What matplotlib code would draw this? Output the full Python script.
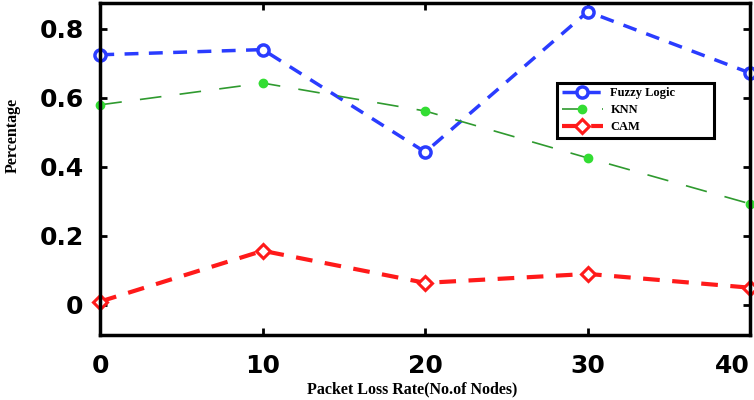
import matplotlib.pyplot as plt

# data
nodes = [0, 10, 20, 30, 40]
fuzzy = [0.725, 0.740, 0.443, 0.850, 0.672]
knn = [0.580, 0.643, 0.562, 0.426, 0.293]
cam = [0.010, 0.157, 0.064, 0.090, 0.050]
yticks = [0, 0.2, 0.4, 0.6, 0.8]
ytick_labels = ['0', '0.2', '0.4', '0.6', '0.8']

fig = plt.figure(figsize=(7.54, 4.0), dpi=100)
ax = fig.add_axes([0.133, 0.1625, 0.862, 0.83])

ax.plot(nodes, fuzzy, color='#2a3cff', lw=2.5, ls=(0, (4, 3)), marker='o',
        ms=8, mfc='white', mec='#2a3cff', mew=2.5, label='Fuzzy Logic', clip_on=False)
ax.plot(nodes, knn, color='#2f9a2f', lw=1.2, ls=(0, (13, 11)), marker='o',
        ms=6, mfc='#33dd33', mec='#33dd33', label='KNN', clip_on=False)
ax.plot(nodes, cam, color='#ff1a1a', lw=3, ls=(0, (4, 3)), marker='D',
        ms=7, mfc='white', mec='#ff1a1a', mew=2.2, label='CAM', clip_on=False)

ax.set_xlim(0, 40)
ax.set_ylim(-0.087, 0.875)
ax.set_xticks(nodes)
ax.set_yticks(yticks)
ax.set_yticklabels(ytick_labels)
ax.tick_params(direction='in', length=5, width=2, top=True, right=True, labelsize=18)
ax.tick_params(axis='x', pad=14)
ax.tick_params(axis='y', pad=12)
for lab in ax.get_xticklabels() + ax.get_yticklabels():
    lab.set_fontweight('bold')
ax.get_xticklabels()[-1].set_horizontalalignment('right')
ax.get_xticklabels()[-1].set_x(40.1)
for sp in ax.spines.values():
    sp.set_linewidth(2.5)

ax.set_xlabel('Packet Loss Rate(No.of Nodes)', family='Liberation Serif',
              fontweight='bold', fontsize=11.5)
ax.xaxis.set_label_coords(0.48, -0.14)
ax.set_ylabel('Percentage', family='Liberation Serif', fontweight='bold',
              fontsize=11.5, va='center')
ax.yaxis.set_label_coords(-0.134, 0.60)

leg = ax.legend(loc='upper left', bbox_to_anchor=(0.703, 0.591, 0.2415, 0.168),
                mode='expand', borderaxespad=0,
                fancybox=False, framealpha=1, edgecolor='black', handlelength=3.3,
                handletextpad=0.6, borderpad=0.35, labelspacing=0.4,
                prop={'family': 'Liberation Serif', 'weight': 'bold', 'size': 9})
leg.get_frame().set_linewidth(2.2)

fig.savefig('out.png', dpi=100)
